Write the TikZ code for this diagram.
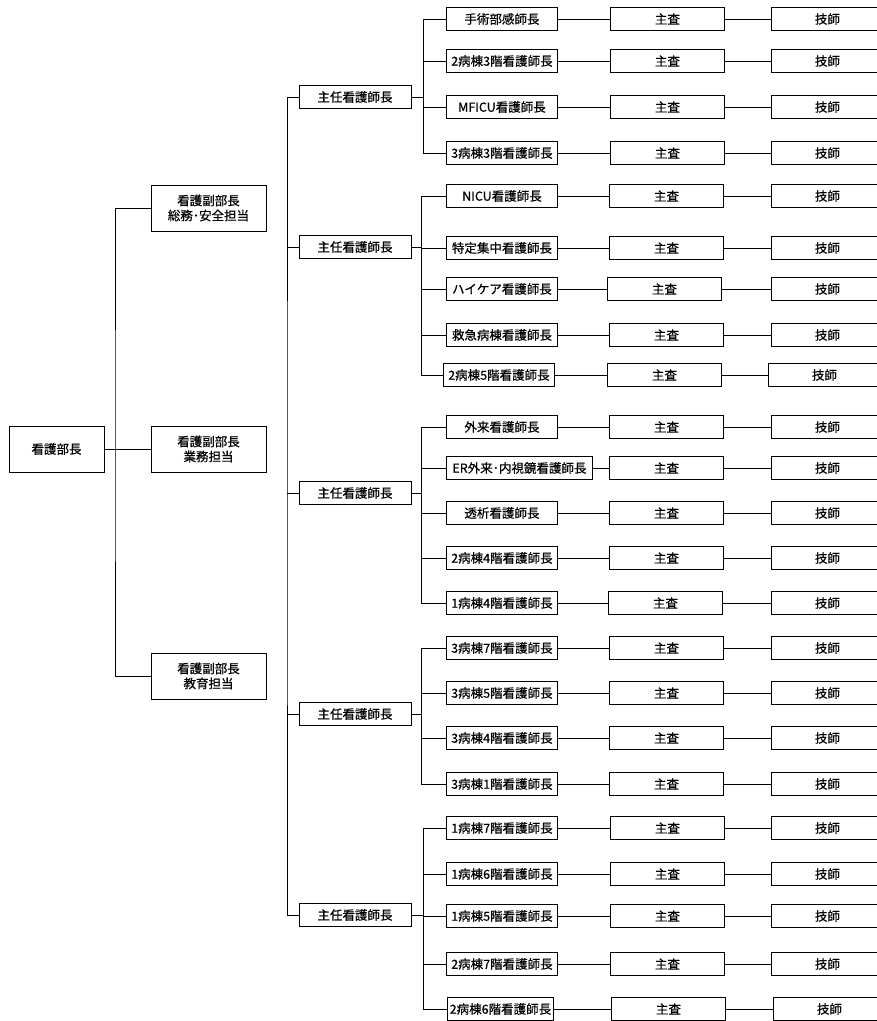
\documentclass[tikz,border=0pt]{standalone}
\usepackage{fontspec}
\newfontfamily\cjk[FakeBold=0.5]{Noto Sans CJK JP}
\newcommand\orgrow[8]{%
  \node[box, minimum width=#6pt, anchor=west] (h#1) at (#5,#2) {#3};
  \node[box, minimum width=114pt, anchor=west] (c#1) at (#7,#2) {主査};
  \node[box, minimum width=112pt, anchor=west] (g#1) at (#8,#2) {技師};
  \draw[conn] (#4|-h#1.west) -- (h#1.west);
  \draw[conn] (h#1.east) -- (c#1.west);
  \draw[conn] (c#1.east) -- (g#1.west);
}
\begin{document}
\begin{tikzpicture}[x=1pt,y=-1pt,
  box/.style={draw, line width=0.9pt, inner sep=0pt, align=center, minimum height=23pt,
    font=\cjk\fontsize{12.5}{15}\selectfont},
  conn/.style={line width=0.9pt}]
\clip (0,0) rectangle (877,1021);
% level 1 and 2
\node[box, minimum width=95pt, minimum height=46pt] (top) at (56.5,449) {看護部長};
\node[box, minimum width=115pt, minimum height=46pt] (vp1) at (208.5,208) {看護副部長\\総務･安全担当};
\node[box, minimum width=115pt, minimum height=46pt] (vp2) at (208.5,449) {看護副部長\\業務担当};
\node[box, minimum width=115pt, minimum height=46pt] (vp3) at (208.5,676) {看護副部長\\教育担当};
\coordinate (j1) at (115,449);
\draw[conn] (top.east) -- (vp2.west);
\draw[conn] (vp1.west) -| (j1) |- (vp3.west);
% level 3
\node[box, minimum width=112pt] (ch1) at (355,97) {主任看護師長};
\node[box, minimum width=112pt] (ch2) at (355,247) {主任看護師長};
\node[box, minimum width=112pt] (ch3) at (355,493) {主任看護師長};
\node[box, minimum width=112pt] (ch4) at (355,714) {主任看護師長};
\node[box, minimum width=112pt] (ch5) at (355,915) {主任看護師長};
\coordinate (j2) at (287,500);
\draw[conn] (ch1.west) -| (j2) |- (ch5.west);
\draw[conn] (j2|-ch2.west) -- (ch2.west);
\draw[conn] (j2|-ch3.west) -- (ch3.west);
\draw[conn] (j2|-ch4.west) -- (ch4.west);
% junctions
\coordinate (ga) at (423,97);
\coordinate (gb) at (421,247);
\coordinate (gc) at (421,493);
\coordinate (gd) at (421,714);
\coordinate (ge) at (423,915);
% group 1
\orgrow{a1}{19}{手術部感師長}{ga}{446}{111}{610}{771}
\orgrow{a2}{61}{2病棟3階看護師長}{ga}{446}{111}{610}{771}
\orgrow{a3}{107}{MFICU看護師長}{ga}{446}{111}{610}{771}
\orgrow{a4}{153}{3病棟3階看護師長}{ga}{446}{111}{610}{771}
% group 2
\orgrow{b1}{196}{NICU看護師長}{gb}{446}{111}{609}{771}
\orgrow{b2}{248}{特定集中看護師長}{gb}{446}{111}{609}{771}
\orgrow{b3}{289}{ハイケア看護師長}{gb}{446}{111}{607}{771}
\orgrow{b4}{335}{救急病棟看護師長}{gb}{446}{111}{609}{771}
\orgrow{b5}{375}{2病棟5階看護師長}{gb}{443}{111}{607}{768}
% group 3
\orgrow{c1}{427}{外来看護師長}{gc}{446}{111}{609}{771}
\orgrow{c2}{468}{ER外来･内視鏡看護師長}{gc}{446}{146}{609}{771}
\orgrow{c3}{513}{透析看護師長}{gc}{446}{111}{609}{771}
\orgrow{c4}{558}{2病棟4階看護師長}{gc}{446}{111}{609}{771}
\orgrow{c5}{603}{1病棟4階看護師長}{gc}{446}{111}{608}{771}
% group 4
\orgrow{d1}{648}{3病棟7階看護師長}{gd}{446}{111}{609}{771}
\orgrow{d2}{693}{3病棟5階看護師長}{gd}{446}{111}{609}{771}
\orgrow{d3}{738}{3病棟4階看護師長}{gd}{446}{111}{609}{771}
\orgrow{d4}{784}{3病棟1階看護師長}{gd}{446}{111}{609}{771}
% group 5
\orgrow{e1}{828}{1病棟7階看護師長}{ge}{446}{111}{610}{771}
\orgrow{e2}{874}{1病棟6階看護師長}{ge}{446}{111}{610}{771}
\orgrow{e3}{916}{1病棟5階看護師長}{ge}{446}{111}{610}{771}
\orgrow{e4}{964}{2病棟7階看護師長}{ge}{446}{111}{610}{771}
\orgrow{e5}{1009}{2病棟6階看護師長}{ge}{447}{106}{611}{773}
% group spines
\draw[conn] (ch1.east) -- (ga);
\draw[conn] (ga|-ha1.west) -- (ga|-ha4.west);
\draw[conn] (ch2.east) -- (gb);
\draw[conn] (gb|-hb1.west) -- (gb|-hb5.west);
\draw[conn] (ch3.east) -- (gc);
\draw[conn] (gc|-hc1.west) -- (gc|-hc5.west);
\draw[conn] (ch4.east) -- (gd);
\draw[conn] (gd|-hd1.west) -- (gd|-hd4.west);
\draw[conn] (ch5.east) -- (ge);
\draw[conn] (ge|-he1.west) -- (ge|-he5.west);
\end{tikzpicture}
\end{document}
